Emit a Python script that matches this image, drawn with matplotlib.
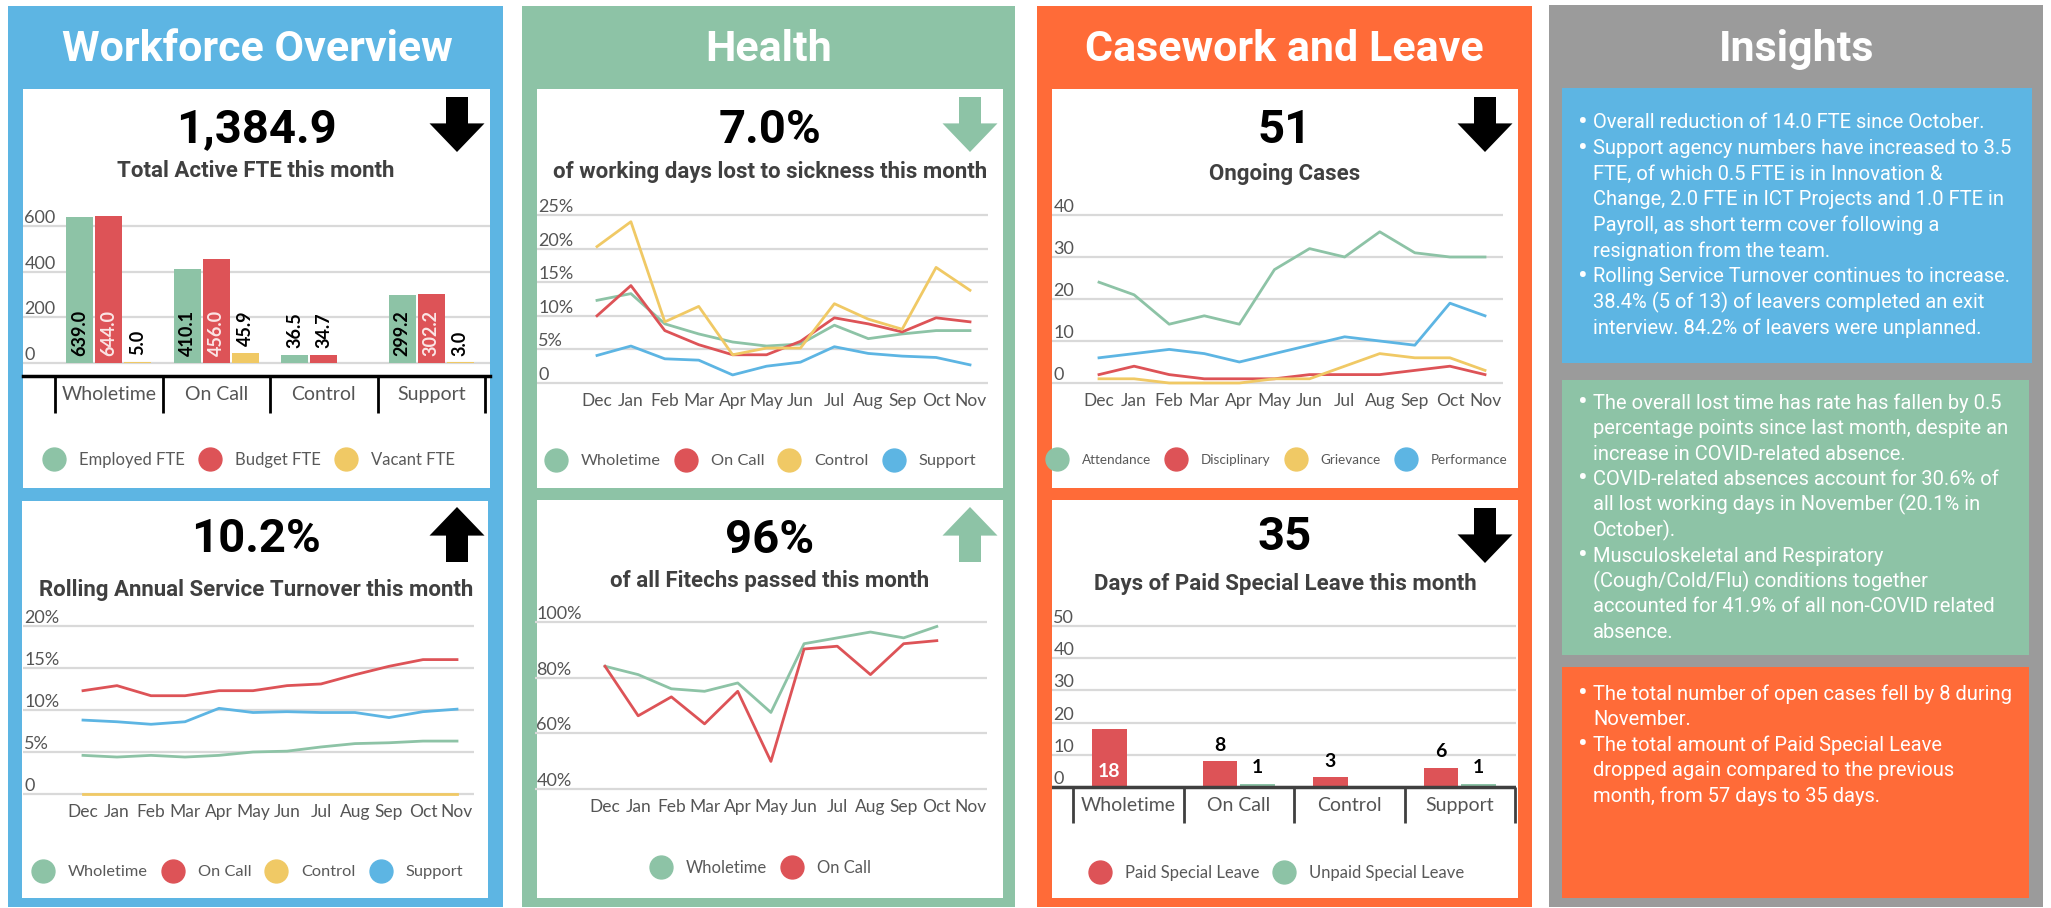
import numpy as np
import matplotlib
matplotlib.use('Agg')
import matplotlib.pyplot as plt
from matplotlib.patches import Rectangle, Polygon
from matplotlib.lines import Line2D

plt.rcParams['font.family'] = ['Lato', 'DejaVu Sans']

# ---- data ----
months = ['Dec', 'Jan', 'Feb', 'Mar', 'Apr', 'May', 'Jun', 'Jul', 'Aug', 'Sep', 'Oct', 'Nov']
groups = ['Wholetime', 'On Call', 'Control', 'Support']

employed_fte = [639.0, 410.1, 36.5, 299.2]
budget_fte = [644.0, 456.0, 34.7, 302.2]
vacant_fte = [5.0, 45.9, 0.0, 3.0]

turn_wholetime = [4.6, 4.4, 4.6, 4.4, 4.6, 5.0, 5.1, 5.6, 6.0, 6.1, 6.3, 6.3]
turn_oncall = [12.3, 12.9, 11.7, 11.7, 12.3, 12.3, 12.9, 13.1, 14.2, 15.2, 16.0, 16.0]
turn_control = [0, 0, 0, 0, 0, 0, 0, 0, 0, 0, 0, 0]
turn_support = [8.8, 8.6, 8.3, 8.6, 10.2, 9.7, 9.8, 9.7, 9.7, 9.1, 9.8, 10.1]

sick_wholetime = [12.3, 13.3, 8.8, 7.3, 6.1, 5.5, 5.8, 8.6, 6.6, 7.3, 7.8, 7.8]
sick_oncall = [10.0, 14.5, 7.8, 5.7, 4.2, 4.2, 6.2, 9.7, 8.8, 7.6, 9.7, 9.1]
sick_control = [20.3, 24.0, 9.1, 11.4, 4.2, 5.2, 5.2, 11.8, 9.5, 8.0, 17.2, 13.8]
sick_support = [4.1, 5.5, 3.6, 3.4, 1.2, 2.5, 3.1, 5.4, 4.4, 4.0, 3.8, 2.7]

fit_wholetime = [84.1, 81.1, 76.0, 75.1, 78.1, 67.5, 92.2, 94.3, 96.4, 94.3, 98.4, np.nan]
fit_oncall = [84.1, 66.3, 73.1, 63.4, 75.1, 49.9, 90.3, 91.3, 81.1, 92.2, 93.3, np.nan]

case_attendance = [24, 21, 14, 16, 14, 27, 32, 30, 36, 31, 30, 30]
case_disciplinary = [2, 4, 2, 1, 1, 1, 2, 2, 2, 3, 4, 2]
case_grievance = [1, 1, 0, 0, 0, 1, 1, 4, 7, 6, 6, 3]
case_performance = [6, 7, 8, 7, 5, 7, 9, 11, 10, 9, 19, 16]

paid_leave = [18, 8, 3, 6]
unpaid_leave = [0, 1, 0, 1]

insights_blue = [
    ['Overall reduction of 14.0 FTE since October.'],
    ['Support agency numbers have increased to 3.5', 'FTE, of which 0.5 FTE is in Innovation &',
     'Change, 2.0 FTE in ICT Projects and 1.0 FTE in', 'Payroll, as short term cover following a',
     'resignation from the team.'],
    ['Rolling Service Turnover continues to increase.', '38.4% (5 of 13) of leavers completed an exit',
     'interview. 84.2% of leavers were unplanned.'],
]
insights_green = [
    ['The overall lost time has rate has fallen by 0.5', 'percentage points since last month, despite an',
     'increase in COVID-related absence.'],
    ['COVID-related absences account for 30.6% of', 'all lost working days in November (20.1% in',
     'October).'],
    ['Musculoskeletal and Respiratory', '(Cough/Cold/Flu) conditions together',
     'accounted for 41.9% of all non-COVID related', 'absence.'],
]
insights_orange = [
    ['The total number of open cases fell by 8 during', 'November.'],
    ['The total amount of Paid Special Leave', 'dropped again compared to the previous',
     'month, from 57 days to 35 days.'],
]

# ---- colours ----
BLUE = '#5DB5E3'
GREEN = '#8DC3A6'
RED = '#DD5357'
YELLOW = '#F0C965'
ORANGE = '#FF6B38'
GREY = '#9B9B9B'
AXIS_TXT = '#555555'
SUB_TXT = '#404040'
GRID = '#D9D9D9'

W, H = 2051, 908
fig = plt.figure(figsize=(W / 100, H / 100), dpi=100)
fig.patch.set_facecolor('white')


def box(x0, y0, x1, y1, color, z=-3):
    fig.patches.append(Rectangle((x0 / W, 1 - y1 / H), (x1 - x0) / W, (y1 - y0) / H,
                                 transform=fig.transFigure, facecolor=color,
                                 edgecolor='none', zorder=z))


def ftext(x, y, s, **kw):
    fig.text(x / W, 1 - y / H, s, **kw)


def arrow(xc, ytop, ybot, up, color):
    h = ybot - ytop
    if up:
        yb = ytop + 0.52 * h
        pts = [(xc, ytop), (xc + 27.5, yb), (xc + 11, yb), (xc + 11, ybot),
               (xc - 11, ybot), (xc - 11, yb), (xc - 27.5, yb)]
    else:
        yb = ybot - 0.52 * h
        pts = [(xc - 11, ytop), (xc + 11, ytop), (xc + 11, yb), (xc + 27.5, yb),
               (xc, ybot), (xc - 27.5, yb), (xc - 11, yb)]
    pts = [(px / W, 1 - py / H) for px, py in pts]
    fig.patches.append(Polygon(pts, closed=True, transform=fig.transFigure,
                               facecolor=color, edgecolor='none', zorder=5))


def make_axes(x0, y0, x1, y1, xref, yref):
    ax = fig.add_axes([x0 / W, 1 - y1 / H, (x1 - x0) / W, (y1 - y0) / H])
    (pa, va), (pb, vb) = xref
    k = (vb - va) / (pb - pa)
    ax.set_xlim(va + (x0 - pa) * k, va + (x1 - pa) * k)
    (pa, va), (pb, vb) = yref
    k = (vb - va) / (pb - pa)
    ax.set_ylim(va + (y1 - pa) * k, va + (y0 - pa) * k)
    ax.set_facecolor('none')
    for s in ax.spines.values():
        s.set_visible(False)
    ax.tick_params(length=0)
    return ax


def y_axis(ax, ticks, labels):
    ax.set_yticks(ticks)
    ax.set_yticklabels(labels, ha='left', va='bottom', fontsize=13, color=AXIS_TXT)
    ax.tick_params(axis='y', pad=-1)
    ax.grid(axis='y', color=GRID, lw=1.6)
    ax.set_axisbelow(True)


def month_axis(ax):
    ax.set_xticks(np.arange(len(months)), months)
    ax.tick_params(axis='x', pad=5, labelsize=12.5, labelcolor=AXIS_TXT)


def legend(ax, labels, colors, cx, cy, fs):
    fs_px = fs * 100 / 72
    handles = [Line2D([], [], ls='none', marker='o', ms=16.5, mfc=c, mec=c) for c in colors]
    ax.legend(handles, labels, loc='center', bbox_to_anchor=(cx / W, 1 - cy / H),
              bbox_transform=fig.transFigure, ncol=len(labels), frameon=False,
              fontsize=fs, labelcolor='#595959', handlelength=1,
              handletextpad=25 / fs_px - 0.5, columnspacing=(25 - fs_px / 2) / fs_px)


def header(cx, big, big_y, sub, sub_y):
    ftext(cx, big_y, big, ha='center', va='baseline', fontsize=34, fontweight='bold',
          family='Roboto', color='black')
    ftext(cx, sub_y, sub, ha='center', va='baseline', fontsize=16, fontweight='bold',
          family='Roboto', color=SUB_TXT)


# ---- backgrounds ----
box(8, 6, 503, 907, BLUE)
box(522, 6, 1015, 907, GREEN)
box(1037, 6, 1532, 907, ORANGE)
box(1549, 5, 2043, 907, GREY)
for b in [(23, 89, 490, 488), (22, 501, 488, 898), (537, 89, 1003, 488),
          (537, 500, 1003, 898), (1052, 89, 1518, 488), (1052, 500, 1518, 898)]:
    box(*b, 'white', z=-2)
box(1562, 88, 2032, 363, BLUE, z=-2)
box(1562, 380, 2029, 655, GREEN, z=-2)
box(1562, 667, 2029, 898, ORANGE, z=-2)

for cx, t in [(257, 'Workforce Overview'), (769, 'Health'), (1284, 'Casework and Leave'),
              (1797, 'Insights')]:
    ftext(cx, 61, t, ha='center', va='baseline', fontsize=31, fontweight='bold',
          family='Roboto', color='white')

# ---- Workforce: FTE bars ----
header(256, '1,384.9', 142, 'Total Active FTE this month', 177)
arrow(457, 97, 152, False, 'black')
ax = make_axes(23, 198, 490, 415, ((55, -0.5), (485, 3.5)), ((363, 0), (226, 600)))
y_axis(ax, [0, 200, 400, 600], ['0', '200', '400', '600'])
ax.set_xticks([])
x = np.arange(len(groups))
for off, vals, col, in_col in [(-0.27, employed_fte, GREEN, 'black'),
                               (0.0, budget_fte, RED, '#FBE6E6'),
                               (0.27, vacant_fte, YELLOW, 'black')]:
    ax.bar(x + off, vals, width=0.25, color=col, zorder=2)
    for xi, v in zip(x + off, vals):
        if v == 0:
            continue
        inside = v >= 80
        ax.text(xi, 29 if inside else v + 29, f'{v:.1f}', rotation=90, ha='center',
                va='bottom', fontsize=13, fontweight='bold',
                color=in_col if inside else 'black', zorder=3)
ax.axhline(-57, color='black', lw=2.5, clip_on=False)
ax.vlines(np.arange(-0.5, len(groups)), -219, -57, color='black', lw=2)
for xi, g in zip(x, groups):
    ax.text(xi, -136, g, ha='center', va='center', fontsize=14, color=AXIS_TXT)
legend(ax, ['Employed FTE', 'Budget FTE', 'Vacant FTE'], [GREEN, RED, YELLOW], 250, 460, 12)

# ---- Workforce: turnover lines ----
header(256, '10.2%', 552, 'Rolling Annual Service Turnover this month', 596)
arrow(457, 507, 562, True, 'black')
ax = make_axes(23, 610, 474, 797, ((83, 0), (457, 11)), ((794, 0), (626, 20)))
y_axis(ax, [0, 5, 10, 15, 20], ['0', '5%', '10%', '15%', '20%'])
month_axis(ax)
xm = np.arange(len(months))
for vals, col in [(turn_wholetime, GREEN), (turn_oncall, RED), (turn_control, YELLOW),
                  (turn_support, BLUE)]:
    ax.plot(xm, vals, color=col, lw=2, clip_on=False)
legend(ax, ['Wholetime', 'On Call', 'Control', 'Support'], [GREEN, RED, YELLOW, BLUE], 249, 872, 11.8)

# ---- Health: sickness ----
header(770, '7.0%', 143, 'of working days lost to sickness this month', 178)
arrow(970, 97, 152, False, GREEN)
ax = make_axes(537, 197, 988, 386, ((597, 0), (970, 11)), ((383, 0), (215, 25)))
y_axis(ax, [0, 5, 10, 15, 20, 25], ['0', '5%', '10%', '15%', '20%', '25%'])
month_axis(ax)
for vals, col in [(sick_wholetime, GREEN), (sick_oncall, RED), (sick_control, YELLOW),
                  (sick_support, BLUE)]:
    ax.plot(xm, vals, color=col, lw=2, clip_on=False)
legend(ax, ['Wholetime', 'On Call', 'Control', 'Support'], [GREEN, RED, YELLOW, BLUE], 762, 461, 11.8)

# ---- Health: fitechs ----
header(770, '96%', 553, 'of all Fitechs passed this month', 587)
arrow(970, 507, 562, True, GREEN)
ax = make_axes(535, 604, 987, 792, ((605, 0), (970, 11)), ((789, 40), (622, 100)))
y_axis(ax, [40, 60, 80, 100], ['40%', '60%', '80%', '100%'])
month_axis(ax)
for vals, col in [(fit_wholetime, GREEN), (fit_oncall, RED)]:
    ax.plot(xm, vals, color=col, lw=2, clip_on=False)
legend(ax, ['Wholetime', 'On Call'], [GREEN, RED], 762, 868, 12)

# ---- Casework: ongoing cases ----
header(1285, '51', 143, 'Ongoing Cases', 180)
arrow(1485, 97, 152, False, 'black')
ax = make_axes(1052, 197, 1503, 386, ((1099, 0), (1485, 11)), ((383, 0), (215, 40)))
y_axis(ax, [0, 10, 20, 30, 40], ['0', '10', '20', '30', '40'])
month_axis(ax)
for vals, col in [(case_attendance, GREEN), (case_disciplinary, RED), (case_grievance, YELLOW),
                  (case_performance, BLUE)]:
    ax.plot(xm, vals, color=col, lw=2, clip_on=False)
legend(ax, ['Attendance', 'Disciplinary', 'Grievance', 'Performance'],
       [GREEN, RED, YELLOW, BLUE], 1279, 460, 9.7)

# ---- Casework: special leave ----
header(1285, '35', 550, 'Days of Paid Special Leave this month', 590)
arrow(1485, 508, 563, False, 'black')
ax = make_axes(1052, 604, 1516, 825, ((1073, -0.5), (1515, 3.5)), ((787, 0), (626, 50)))
y_axis(ax, [0, 10, 20, 30, 40, 50], ['0', '10', '20', '30', '40', '50'])
ax.set_xticks([])
for off, vals, col in [(-0.17, paid_leave, RED), (0.17, unpaid_leave, GREEN)]:
    ax.bar(x + off, vals, width=0.31, color=col, zorder=2)
    for xi, v in zip(x + off, vals):
        if v == 0:
            continue
        inside = v >= 15
        ax.text(xi, 2.3 if inside else v + 2.3, f'{v}', ha='center', va='bottom',
                fontsize=14, fontweight='bold', color='white' if inside else 'black', zorder=3)
ax.axhline(0, color='#404040', lw=2.5, zorder=3)
ax.vlines(np.arange(-0.5, len(groups)), -11.2, 0, color='#404040', lw=2, clip_on=False)
for xi, g in zip(x, groups):
    ax.text(xi, -5.9, g, ha='center', va='center', fontsize=14, color=AXIS_TXT)
legend(ax, ['Paid Special Leave', 'Unpaid Special Leave'], [RED, GREEN], 1278, 873, 12)

# ---- Insights text ----
def bullets(paras, starts):
    for lines, y0 in zip(paras, starts):
        ftext(1583, y0, '\u2022', ha='center', va='center', fontsize=21,
              family='Roboto', color='white')
        for i, line in enumerate(lines):
            ftext(1593, y0 + i * 25.5, line, ha='left', va='center', fontsize=14.5,
                  family='Roboto', color='white')


bullets(insights_blue, [123, 149, 277])
bullets(insights_green, [403, 479, 556])
bullets(insights_orange, [694, 745])

fig.savefig('out.png', dpi=100)
